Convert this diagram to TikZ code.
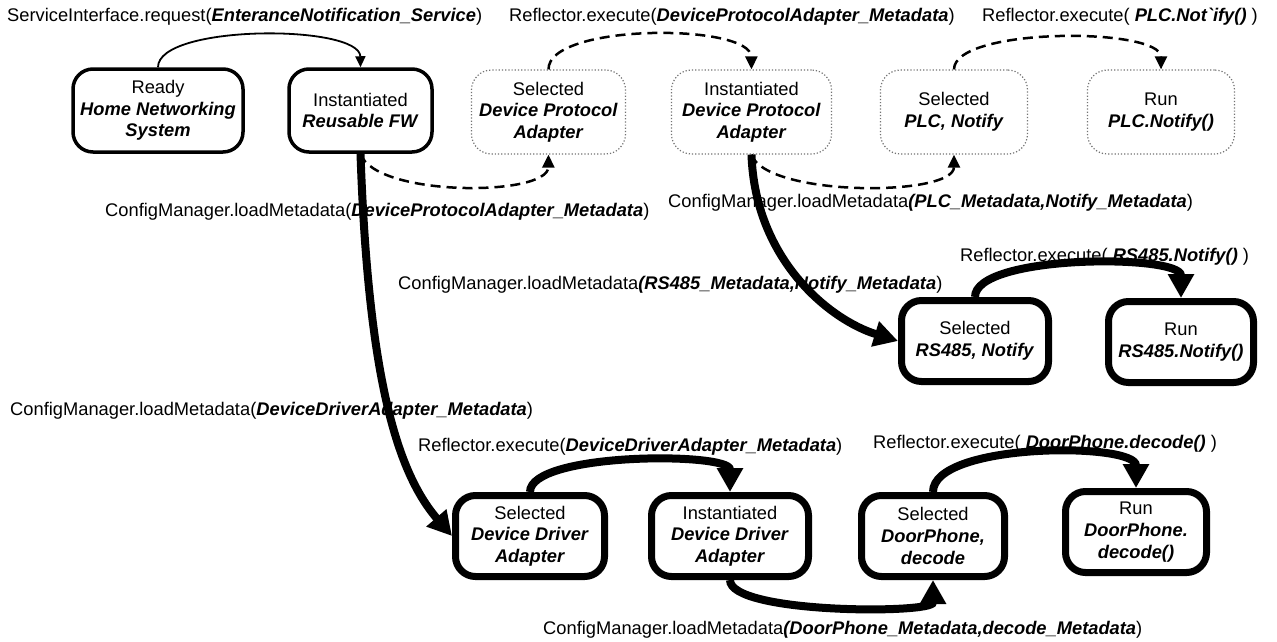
\documentclass[tikz,border=0pt]{standalone}
\usepackage{fontspec}
\setmainfont{Liberation Sans}
\usetikzlibrary{arrows.meta}
\newcommand\bfit[1]{\textbf{\textit{#1}}}
\begin{document}
\begin{tikzpicture}[x=1pt,y=-1pt,
  base/.style={align=center, inner sep=0pt, font=\fontsize{18.3}{21.7}\selectfont, rounded corners=20pt},
  thinbox/.style={base, draw, line width=3.5pt},
  thickbox/.style={base, draw, line width=7pt},
  dotbox/.style={base, draw=black!55, dotted, line width=1.2pt},
  lbl/.style={anchor=base west, inner sep=0pt, font=\fontsize{18.3}{21.7}\selectfont},
  thinarr/.style={line width=1.8pt, -{Triangle[length=11pt,width=10pt]}},
  dasharr/.style={line width=2.5pt, dash pattern=on 10pt off 6pt, -{Triangle[length=13pt,width=12pt]}},
  thickarr/.style={line width=8pt, -{Triangle[length=24pt,width=25pt]}}
]
\fill[white] (0,0) rectangle (1277,641);
\useasboundingbox (0,0) rectangle (1277,641);

% labels
\node[lbl] (l1) at (7,21) {ServiceInterface.request(\bfit{EnteranceNotification\_Service})};
\node[lbl] (l2) at (509,21) {Reflector.execute(\bfit{DeviceProtocolAdapter\_Metadata})};
\node[lbl] (l3) at (982,21) {Reflector.execute( \bfit{PLC.Not\textasciigrave ify()} )};
\node[lbl] (l4) at (105,216) {ConfigManager.loadMetadata(\bfit{DeviceProtocolAdapter\_Metadata})};
\node[lbl] (l5) at (668,207) {ConfigManager.loadMetadata\bfit{(PLC\_Metadata,Notify\_Metadata})};
\node[lbl] (l6) at (960,261) {Reflector.execute( \bfit{RS485.Notify()} )};
\node[lbl] (l7) at (398,289) {ConfigManager.loadMetadata\bfit{(RS485\_Metadata,Notify\_Metadata})};
\node[lbl] (l8) at (10,415) {ConfigManager.loadMetadata(\bfit{DeviceDriverAdapter\_Metadata})};
\node[lbl] (l9) at (418,451) {Reflector.execute(\bfit{DeviceDriverAdapter\_Metadata})};
\node[lbl] (l10) at (873,448) {Reflector.execute( \bfit{DoorPhone.decode()} )};
\node[lbl] (l11) at (543,634) {ConfigManager.loadMetadata\bfit{(DoorPhone\_Metadata,decode\_Metadata})};

% nodes
\node[thinbox, minimum width=170, minimum height=83] (ready) at (158,110.5) {Ready\\\bfit{Home Networking}\\\bfit{System}};
\node[thinbox, minimum width=143, minimum height=83] (rfw) at (360.5,110.5) {Instantiated\\\bfit{Reusable FW}};
\node[dotbox, minimum width=154, minimum height=84] (sdpa) at (548.5,112) {Selected\\\bfit{Device Protocol}\\\bfit{Adapter}};
\node[dotbox, minimum width=160, minimum height=84] (idpa) at (751.5,112) {Instantiated\\\bfit{Device Protocol}\\\bfit{Adapter}};
\node[dotbox, minimum width=147, minimum height=84] (splc) at (954,112) {Selected\\\bfit{PLC, Notify}};
\node[dotbox, minimum width=147, minimum height=84] (rplc) at (1161,112) {Run\\\bfit{PLC.Notify()}};
\node[thickbox, minimum width=147, minimum height=81] (srs) at (975,341) {Selected\\\bfit{RS485, Notify}};
\node[thickbox, minimum width=145, minimum height=81] (rrs) at (1181,342) {Run\\\bfit{RS485.Notify()}};
\node[thickbox, minimum width=149, minimum height=81] (sdda) at (530,536) {Selected\\\bfit{Device Driver}\\\bfit{Adapter}};
\node[thickbox, minimum width=157, minimum height=81] (idda) at (730,536) {Instantiated\\\bfit{Device Driver}\\\bfit{Adapter}};
\node[thickbox, minimum width=143, minimum height=81] (sdp) at (933,536) {Selected\\\bfit{DoorPhone,}\\\bfit{decode}};
\node[thickbox, minimum width=141, minimum height=81] (rdp) at (1136,532) {Run\\\bfit{DoorPhone.}\\\bfit{decode()}};

% connectors
\draw[thinarr] (ready.north) .. controls (158,24) and (360,24) .. (rfw.north);
\draw[dasharr] (rfw.south) .. controls (375,197) and (548,197) .. (sdpa.south);
\draw[dasharr] (sdpa.north) .. controls (548,23) and (751,23) .. (idpa.north);
\draw[dasharr] (idpa.south) .. controls (766,197) and (954,197) .. (splc.south);
\draw[dasharr] (splc.north) .. controls (954,27) and (1161,27) .. (rplc.north);
\draw[thickarr] (rfw.south) .. controls (368,370) and (395,470) .. (sdda.west);
\draw[thickarr] (idpa.south) .. controls (755,260) and (830,320) .. (srs.west);
\draw[thickarr] (srs.north) .. controls (975,254) and (1181,254) .. (rrs.north);
\draw[thickarr] (sdda.north) .. controls (530,452) and (730,452) .. (idda.north);
\draw[thickarr] (idda.south) .. controls (730,614) and (933,614) .. (sdp.south);
\draw[thickarr] (sdp.north) .. controls (933,442) and (1136,442) .. (rdp.north);
\end{tikzpicture}
\end{document}
